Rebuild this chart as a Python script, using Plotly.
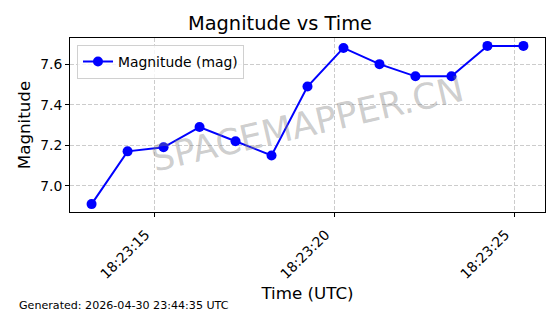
import plotly.graph_objects as go
import pandas as pd

times = ["2026-04-30 18:23:13.25", "2026-04-30 18:23:14.25", "2026-04-30 18:23:15.25",
         "2026-04-30 18:23:16.25", "2026-04-30 18:23:17.25", "2026-04-30 18:23:18.25",
         "2026-04-30 18:23:19.25", "2026-04-30 18:23:20.25", "2026-04-30 18:23:21.25",
         "2026-04-30 18:23:22.25", "2026-04-30 18:23:23.25", "2026-04-30 18:23:24.25",
         "2026-04-30 18:23:25.25"]
magnitudes = [6.91, 7.17, 7.19, 7.29, 7.22, 7.15, 7.49, 7.68, 7.60, 7.54, 7.54, 7.69, 7.69]

t = pd.to_datetime(times)
span = t.max() - t.min()
xr = [t.min() - 0.05 * span, t.max() + 0.05 * span]
ymin, ymax = min(magnitudes), max(magnitudes)
yr = [ymin - 0.05 * (ymax - ymin), ymax + 0.05 * (ymax - ymin)]

font = "DejaVu Sans"
fig = go.Figure()
fig.add_trace(go.Scatter(
    x=t, y=magnitudes, mode="lines+markers", name="Magnitude (mag)",
    line=dict(color="#0000ff", width=2),
    marker=dict(color="#0000ff", size=10),
))

fig.update_layout(
    width=560, height=314,
    margin=dict(l=70, r=15, t=38, b=102),
    paper_bgcolor="white", plot_bgcolor="white",
    font=dict(family=font, color="black", size=13.9),
    title=dict(text="Magnitude vs Time", x=0.5, xanchor="center", y=0.925, yanchor="middle",
               font=dict(size=19.4, family=font)),
    showlegend=True,
    legend=dict(x=0.0147, y=0.96, xanchor="left", yanchor="top",
                bgcolor="rgba(255,255,255,0.8)", bordercolor="#d0d0d0", borderwidth=1,
                font=dict(size=13.9, family=font)),
    xaxis=dict(
        type="date", range=xr, tickformat="%H:%M:%S",
        tick0="2026-04-30 18:23:15", dtick=5000, tickangle=-45,
        ticklabelshift=-9, ticklabelstandoff=4,
        showgrid=True, gridcolor="#cccccc", griddash="4px,2px", gridwidth=1,
        showline=True, linecolor="black", linewidth=1, mirror=True,
        ticks="outside", ticklen=4, tickcolor="black",
        tickfont=dict(size=13.9, family=font),
        title=dict(text="Time (UTC)", font=dict(size=16.7, family=font), standoff=6),
        zeroline=False,
    ),
    yaxis=dict(
        range=yr, tickvals=[7.0, 7.2, 7.4, 7.6], ticktext=["7.0", "7.2", "7.4", "7.6"],
        showgrid=True, gridcolor="#cccccc", griddash="4px,2px", gridwidth=1,
        showline=True, linecolor="black", linewidth=1, mirror=True,
        ticks="outside", ticklen=4, tickcolor="black",
        tickfont=dict(size=13.9, family=font),
        title=dict(text="Magnitude", font=dict(size=16.7, family=font), standoff=5),
        zeroline=False,
    ),
)

fig.add_annotation(
    text="SPACEMAPPER.CN", xref="paper", yref="paper", x=0.501, y=0.511,
    showarrow=False, textangle=-13,
    font=dict(size=35.5, family=font, color="rgba(128,128,128,0.4)"),
)
fig.add_annotation(
    text="Generated: 2026-04-30 23:44:35 UTC", xref="paper", yref="paper",
    x=(17 - 70) / 475, y=(212 - 305) / 174, xanchor="left", yanchor="middle",
    showarrow=False, font=dict(size=11.1, family=font, color="black"),
)

fig.write_html("out.html")
